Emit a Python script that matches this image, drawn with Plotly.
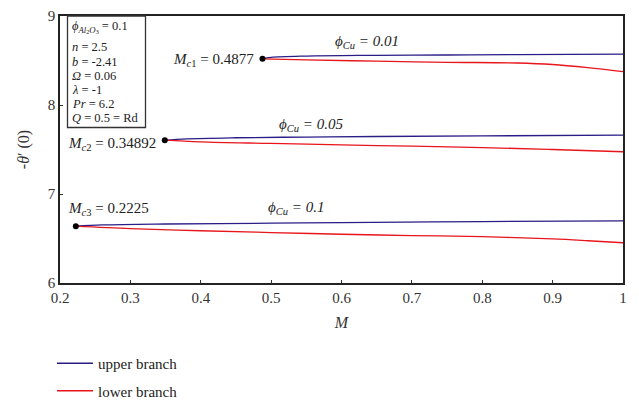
import plotly.graph_objects as go

# ---- data ----
M_up1 = [0.4877, 0.50, 0.55, 0.65, 0.75, 0.85, 1.00]
T_up1 = [8.519, 8.535, 8.550, 8.558, 8.562, 8.566, 8.571]
M_lo1 = [0.4877, 0.55, 0.65, 0.75, 0.85, 0.90, 0.95, 1.00]
T_lo1 = [8.519, 8.508, 8.492, 8.480, 8.472, 8.455, 8.420, 8.376]

M_up2 = [0.34892, 0.38, 0.45, 0.55, 0.65, 0.80, 1.00]
T_up2 = [7.605, 7.620, 7.632, 7.640, 7.646, 7.653, 7.661]
M_lo2 = [0.34892, 0.40, 0.50, 0.60, 0.70, 0.80, 0.90, 1.00]
T_lo2 = [7.605, 7.585, 7.568, 7.552, 7.537, 7.522, 7.500, 7.475]

M_up3 = [0.2225, 0.26, 0.35, 0.50, 0.60, 0.80, 1.00]
T_up3 = [6.638, 6.652, 6.663, 6.672, 6.678, 6.690, 6.699]
M_lo3 = [0.2225, 0.30, 0.40, 0.50, 0.60, 0.70, 0.80, 0.90, 0.95, 1.00]
T_lo3 = [6.638, 6.610, 6.587, 6.567, 6.548, 6.533, 6.520, 6.495, 6.475, 6.452]

crit_M = [0.4877, 0.34892, 0.2225]
crit_T = [8.519, 7.605, 6.638]

x_ticks = [0.2, 0.3, 0.4, 0.5, 0.6, 0.7, 0.8, 0.9, 1.0]
x_tick_text = ["0.2", "0.3", "0.4", "0.5", "0.6", "0.7", "0.8", "0.9", "1"]
y_ticks = [6, 7, 8, 9]

params = [
    "<i>ϕ</i><sub><i>Al</i><sub>2</sub><i>O</i><sub>3</sub></sub> = 0.1",
    "<i>n</i> = 2.5",
    "<i>b</i> = -2.41",
    "<i>Ω</i> = 0.06",
    "<i>λ</i> = -1",
    "<i>Pr</i> = 6.2",
    "<i>Q</i> = 0.5 = Rd",
]

UP = "#2a1d86"
LO = "#e8151b"
FONT = "Liberation Serif"

fig = go.Figure()
ups = [(M_up1, T_up1), (M_up2, T_up2), (M_up3, T_up3)]
los = [(M_lo1, T_lo1), (M_lo2, T_lo2), (M_lo3, T_lo3)]
for i, (mx, ty) in enumerate(ups):
    fig.add_trace(go.Scatter(x=mx, y=ty, mode="lines", line=dict(color=UP, width=1.3, shape="spline"),
                             name="upper branch", legendgroup="u", showlegend=(i == 0)))
for i, (mx, ty) in enumerate(los):
    fig.add_trace(go.Scatter(x=mx, y=ty, mode="lines", line=dict(color=LO, width=1.3, shape="spline"),
                             name="lower branch", legendgroup="l", showlegend=(i == 0)))
fig.add_trace(go.Scatter(x=crit_M, y=crit_T, mode="markers", marker=dict(color="black", size=6),
                         showlegend=False))

W, H = 639, 403
L, R, T, B = 60, 16, 16, 120
pw, ph = W - L - R, H - T - B

def px(xp):
    return (xp - L) / pw

def py(yp):
    return 1 - (yp - T) / ph

annos = []
# parameter box lines
line_y = [27, 47, 62, 76, 90, 104, 118]
for txt, yy in zip(params, line_y):
    annos.append(dict(x=px(70), y=py(yy), xref="paper", yref="paper", text=txt, showarrow=False,
                      xanchor="left", yanchor="middle", font=dict(family=FONT, size=12.5, color="#222")))

# critical point labels
annos.append(dict(x=px(256), y=py(60), xref="paper", yref="paper",
                  text="<i>M</i><sub><i>c</i>1</sub> = 0.4877", showarrow=False, xanchor="right",
                  yanchor="middle", font=dict(family=FONT, size=15, color="#222")))
annos.append(dict(x=px(66), y=py(144), xref="paper", yref="paper",
                  text="<i>M</i><sub><i>c</i>2</sub> = 0.34892", showarrow=False, xanchor="left",
                  yanchor="middle", font=dict(family=FONT, size=15, color="#222")))
annos.append(dict(x=px(66), y=py(209), xref="paper", yref="paper",
                  text="<i>M</i><sub><i>c</i>3</sub> = 0.2225", showarrow=False, xanchor="left",
                  yanchor="middle", font=dict(family=FONT, size=15, color="#222")))
# phi labels
for txt, xx, yy in [("<i>ϕ</i><sub><i>Cu</i></sub> <i>= 0.01</i>", 367, 42),
                    ("<i>ϕ</i><sub><i>Cu</i></sub> <i>= 0.05</i>", 311, 125),
                    ("<i>ϕ</i><sub><i>Cu</i></sub> <i>= 0.1</i>", 296, 208)]:
    annos.append(dict(x=px(xx), y=py(yy), xref="paper", yref="paper", text=txt, showarrow=False,
                      xanchor="center", yanchor="middle", font=dict(family=FONT, size=15, color="#222")))

shapes = [dict(type="rect", xref="paper", yref="paper", x0=px(67.5), x1=px(145.5), y0=py(127.5), y1=1,
               line=dict(color="#333", width=1.3))]

fig.update_layout(
    width=W, height=H,
    margin=dict(l=L, r=R, t=T, b=B, autoexpand=False),
    plot_bgcolor="white", paper_bgcolor="white",
    font=dict(family=FONT, size=14, color="#333"),
    xaxis=dict(range=[0.2, 1.0], tickvals=x_ticks, ticktext=x_tick_text, ticks="inside", ticklen=3,
               tickcolor="#333", showgrid=False, zeroline=False, showline=True, linecolor="#222",
               linewidth=1.5, mirror=True, tickfont=dict(family=FONT, size=15, color="#333"),
               title=dict(text="<i>M</i>", font=dict(family=FONT, size=16, color="#333"), standoff=12)),
    yaxis=dict(range=[6, 9], tickvals=y_ticks, ticks="inside", ticklen=3, tickcolor="#333",
               showgrid=False, zeroline=False, showline=True, linecolor="#222", linewidth=1.5,
               mirror=True, tickfont=dict(family=FONT, size=15, color="#333"),
               title=dict(text="-<i>θ</i>′ (0)", font=dict(family=FONT, size=16, color="#333"), standoff=14)),
    legend=dict(x=px(52), y=py(347), xanchor="left", yanchor="top", xref="paper", yref="paper",
                font=dict(family=FONT, size=15, color="#222"), tracegroupgap=5,
                bgcolor="rgba(0,0,0,0)", itemwidth=36),
    annotations=annos,
    shapes=shapes,
    showlegend=True,
)

fig.write_html("out.html")
